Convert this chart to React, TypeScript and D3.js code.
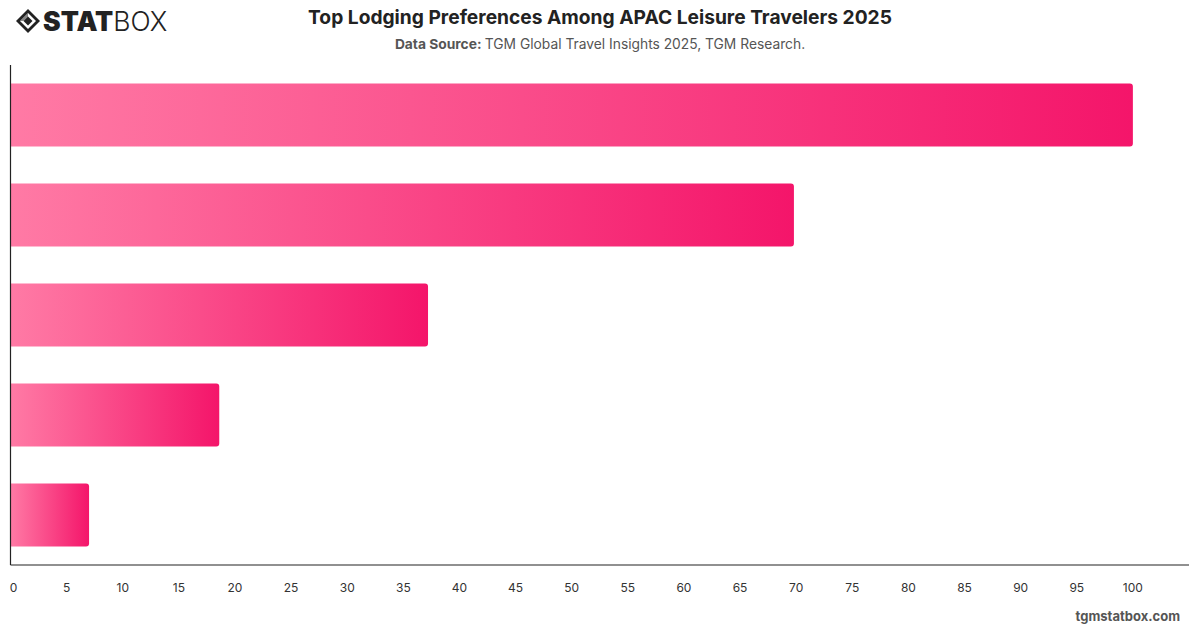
import React from "react";
import * as d3 from "d3";

// Lodging preference shares (no category labels shown on the chart)
const categories = ["Pref 1", "Pref 2", "Pref 3", "Pref 4", "Pref 5"];
const values = [100, 69.8, 37.2, 18.6, 7.0];
const tickValues = d3.range(0, 101, 5);

const W = 1200;
const H = 628;
const FONT = "Inter, 'Noto Sans', Arial, sans-serif";

export default function App() {
  const x = d3.scaleLinear().domain([0, 105]).range([10.5, 1189]);
  const y = d3
    .scaleBand<string>()
    .domain(categories)
    .range([65, 565])
    .paddingInner(0.37)
    .paddingOuter(0.185);

  const barPath = (v: number, cat: string) => {
    const x0 = x(0);
    const x1 = x(v);
    const y0 = y(cat)!;
    const h = y.bandwidth();
    const r = 3;
    const p = d3.path();
    p.moveTo(x0, y0);
    p.lineTo(x1 - r, y0);
    p.arcTo(x1, y0, x1, y0 + r, r);
    p.lineTo(x1, y0 + h - r);
    p.arcTo(x1, y0 + h, x1 - r, y0 + h, r);
    p.lineTo(x0, y0 + h);
    p.closePath();
    return p.toString();
  };

  return (
    <svg
      width={W}
      height={H}
      style={{ position: "absolute", left: 0, top: 0, background: "#fff" }}
      fontFamily={FONT}
    >
      <defs>
        <linearGradient id="barGrad" x1="0" x2="1" y1="0" y2="0">
          <stop offset="0%" stopColor="#ff7aa5" />
          <stop offset="100%" stopColor="#f4156a" />
        </linearGradient>
      </defs>
      <rect width={W} height={H} fill="#fff" />

      {/* logo */}
      <g transform="translate(16,9)">
        <path d="M12,0 L24,12 L12,24 L0,12 Z" fill="#222" />
        <path d="M12,4 L20,12 L12,20 L4,12 Z" fill="#fff" />
        <path d="M12,7.5 L16.5,12 L12,16.5 L7.5,12 Z" fill="#222" />
        <path d="M4,12 L12,4 L12,7.5 L7.5,12 Z" fill="#222" opacity={0.55} />
        <text x={27} y={22} fontSize={26.5} fontWeight={900} fill="#222" letterSpacing={0}>
          STAT
          <tspan fontWeight={300}>BOX</tspan>
        </text>
      </g>

      {/* title */}
      <text x={600} y={24} textAnchor="middle" fontSize={19.2} fontWeight={700} fill="#222">
        Top Lodging Preferences Among APAC Leisure Travelers 2025
      </text>
      <text x={600} y={49} textAnchor="middle" fontSize={13.8} fill="#555">
        <tspan fontWeight={700}>Data Source: </tspan>
        TGM Global Travel Insights 2025, TGM Research.
      </text>

      {/* bars */}
      {values.map((v, i) => (
        <path key={categories[i]} d={barPath(v, categories[i])} fill="url(#barGrad)" />
      ))}

      {/* axes */}
      <line x1={x(0)} x2={x(0)} y1={65} y2={565} stroke="#222" strokeWidth={1.2} />
      <line x1={x(0)} x2={x(105)} y1={565} y2={565} stroke="#222" strokeWidth={1.2} />
      {tickValues.map((t) => (
        <text
          key={t}
          x={x(t) + (t === 0 ? 3 : 0)}
          y={592}
          textAnchor="middle"
          fontSize={12}
          fill="#333"
        >
          {t}
        </text>
      ))}

      <text x={1180} y={621} textAnchor="end" fontSize={13} fontWeight={700} fill="#555">
        tgmstatbox.com
      </text>
    </svg>
  );
}
